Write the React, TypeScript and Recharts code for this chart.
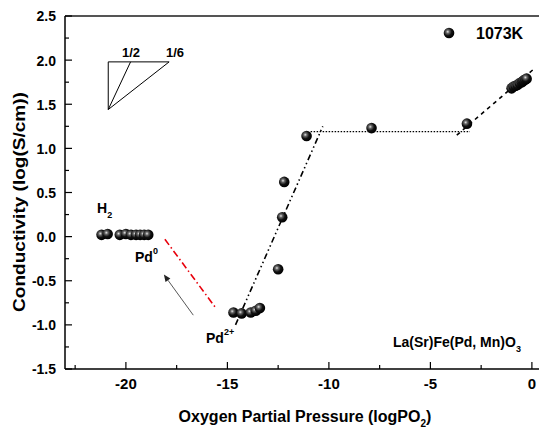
import React from 'react'
import {
  ComposedChart,
  Scatter,
  XAxis,
  YAxis,
  ReferenceLine,
} from 'recharts'

// measured points (logPO2, log conductivity)
const logPO2 = [
  -21.2, -20.9, -20.3, -20.0, -19.75, -19.5, -19.3, -19.1, -18.9,
  -14.7, -14.3, -13.85, -13.6, -13.4,
  -12.5, -12.3, -12.2, -11.1,
  -7.9, -3.2,
  -1.0, -0.9, -0.8, -0.7, -0.6, -0.5, -0.45, -0.4, -0.33, -0.26,
]
const logSigma = [
  0.02, 0.03, 0.02, 0.03, 0.02, 0.02, 0.02, 0.02, 0.02,
  -0.86, -0.87, -0.86, -0.84, -0.81,
  -0.37, 0.22, 0.62, 1.14,
  1.23, 1.28,
  1.68, 1.7, 1.71, 1.72, 1.74, 1.75, 1.76, 1.77, 1.78, 1.79,
]

// guide lines, [x1, y1, x2, y2]
const steepFit = [-14.6, -1.0, -10.3, 1.25]
const plateauFit = [-10.9, 1.19, -3.05, 1.19]
const oxidFit = [-3.7, 1.15, 0.15, 1.91]
const reductionFit = [-18.08, -0.03, -15.6, -0.8]
const arrowLine = [-16.68, -0.89, -18.13, -0.43]

// slope triangle
const triTopLeft = [-20.87, 1.98]
const triBottom = [-20.87, 1.44]
const triHalf = [-19.77, 1.98]
const triSixth = [-17.87, 1.98]

const xMajor = [-20, -15, -10, -5, 0]
const xTicks = [-22.5, -20, -17.5, -15, -12.5, -10, -7.5, -5, -2.5, 0]
const yTicks = [-1.5, -1.25, -1, -0.75, -0.5, -0.25, 0, 0.25, 0.5, 0.75, 1, 1.25, 1.5, 1.75, 2, 2.25, 2.5]

const data = logPO2.map((x, i) => ({ x, y: logSigma[i] }))

const font = '"Liberation Sans", Arial, sans-serif'

const Ball = ({ cx, cy }: any) => (
  <g>
    <defs>
      <radialGradient id="ball" cx="38%" cy="38%" r="62%">
        <stop offset="0%" stopColor="#e6e6e6" />
        <stop offset="25%" stopColor="#666" />
        <stop offset="60%" stopColor="#111" />
        <stop offset="100%" stopColor="#000" />
      </radialGradient>
    </defs>
    <circle cx={cx} cy={cy} r={5.3} fill="url(#ball)" />
  </g>
)

const XTick = ({ x, y, payload }: any) => {
  const major = xMajor.includes(payload.value)
  return (
    <g>
      <line x1={x} x2={x} y1={y} y2={y - (major ? 7 : 4)} stroke="#000" strokeWidth={1.2} />
      {major && (
        <text x={x} y={y + 20} textAnchor="middle" fontSize={15} fontWeight="bold" fontFamily={font} fill="#000">
          {payload.value}
        </text>
      )}
    </g>
  )
}

const YTick = ({ x, y, payload }: any) => {
  const major = Math.abs(payload.value * 2 - Math.round(payload.value * 2)) < 1e-6
  return (
    <g>
      <line x1={x} x2={x + (major ? 7 : 4)} y1={y} y2={y} stroke="#000" strokeWidth={1.2} />
      {major && (
        <text
          x={x - 9}
          y={y + 5}
          textAnchor="end"
          fontSize={14}
          fontWeight="bold"
          fontFamily={font}
          fill="#000"
          transform={`translate(0 ${y}) scale(1 1.1) translate(0 ${-y})`}
        >
          {payload.value.toFixed(1)}
        </text>
      )}
    </g>
  )
}

const seg = (s: number[]) => [
  { x: s[0], y: s[1] },
  { x: s[2], y: s[3] },
]

const ArrowShape = (props: any) => {
  const { x1, y1, x2, y2 } = props
  const ang = Math.atan2(y2 - y1, x2 - x1)
  const len = 7
  const w = 3
  const bx = x2 - len * Math.cos(ang)
  const by = y2 - len * Math.sin(ang)
  const px = -Math.sin(ang) * w
  const py = Math.cos(ang) * w
  return (
    <g>
      <line x1={x1} y1={y1} x2={bx} y2={by} stroke="#444" strokeWidth={0.9} />
      <polygon points={`${x2},${y2} ${bx + px},${by + py} ${bx - px},${by - py}`} fill="#222" />
    </g>
  )
}

const labelStyle = { fontFamily: font, fontWeight: 'bold' as const, fill: '#000' }

export default function App() {
  return (
    <div style={{ position: 'absolute', left: 0, top: 0, background: '#fff' }}>
      <ComposedChart width={539} height={430} data={data} margin={{ top: 16, right: 0, bottom: 0, left: 0 }}>
        <XAxis
          type="number"
          dataKey="x"
          domain={[-23, 0.35]}
          ticks={xTicks}
          interval={0}
          tickSize={0}
          tickMargin={0}
          tickLine={false}
          tick={<XTick />}
          height={61}
          axisLine={{ stroke: '#000', strokeWidth: 1.5 }}
          allowDataOverflow
        />
        <YAxis
          type="number"
          dataKey="y"
          domain={[-1.5, 2.5]}
          ticks={yTicks}
          interval={0}
          tickSize={0}
          tickMargin={0}
          tickLine={false}
          tick={<YTick />}
          width={65}
          axisLine={{ stroke: '#000', strokeWidth: 1.5 }}
          allowDataOverflow
        />
        <ReferenceLine y={2.5} stroke="#555" strokeWidth={2} />

        <ReferenceLine segment={seg(steepFit)} stroke="#000" strokeWidth={1.6} strokeDasharray="6 3 1.5 3 1.5 3" />
        <ReferenceLine segment={seg(plateauFit)} stroke="#000" strokeWidth={1.2} strokeDasharray="1.5 1.5" />
        <ReferenceLine segment={seg(oxidFit)} stroke="#000" strokeWidth={1.6} strokeDasharray="4 4" />
        <ReferenceLine segment={seg(reductionFit)} stroke="#e8000b" strokeWidth={1.6} strokeDasharray="7 3 1.5 3" />
        <ReferenceLine segment={seg(arrowLine)} shape={ArrowShape} />

        <ReferenceLine segment={seg([...triTopLeft, ...triSixth])} stroke="#000" strokeWidth={1} />
        <ReferenceLine segment={seg([...triTopLeft, ...triBottom])} stroke="#000" strokeWidth={1} />
        <ReferenceLine segment={seg([...triBottom, ...triHalf])} stroke="#000" strokeWidth={1} />
        <ReferenceLine segment={seg([...triBottom, ...triSixth])} stroke="#000" strokeWidth={1} />

        <Scatter dataKey="y" shape={<Ball />} isAnimationActive={false} />

        <text x={131} y={57} textAnchor="middle" fontSize={13} {...labelStyle}>1/2</text>
        <text x={175} y={57} textAnchor="middle" fontSize={13} {...labelStyle}>1/6</text>

        <Ball cx={449} cy={33} />
        <text x={476} y={39} fontSize={16} {...labelStyle}>1073K</text>

        <text x={97} y={213} fontSize={14} {...labelStyle}>
          H<tspan fontSize={9} dy={5}>2</tspan>
        </text>
        <text x={135} y={262} fontSize={14} {...labelStyle}>
          Pd<tspan fontSize={9} dy={-8}>0</tspan>
        </text>
        <text x={206} y={343} fontSize={14} {...labelStyle}>
          Pd<tspan fontSize={9} dy={-8}>2+</tspan>
        </text>
        <text x={393} y={347} fontSize={14} {...labelStyle}>
          La(Sr)Fe(Pd, Mn)O<tspan fontSize={9} dy={5}>3</tspan>
        </text>

        <text x={305} y={422} textAnchor="middle" fontSize={16} {...labelStyle}>
          Oxygen Partial Pressure (logPO<tspan fontSize={10} dy={5}>2</tspan>
          <tspan dy={-5}>)</tspan>
        </text>
        <text
          transform="translate(25,202) rotate(-90) scale(1.12,1)"
          x={0}
          y={0}
          textAnchor="middle"
          fontSize={17}
          {...labelStyle}
        >
          Conductivity (log(S/cm))
        </text>
      </ComposedChart>
    </div>
  )
}
